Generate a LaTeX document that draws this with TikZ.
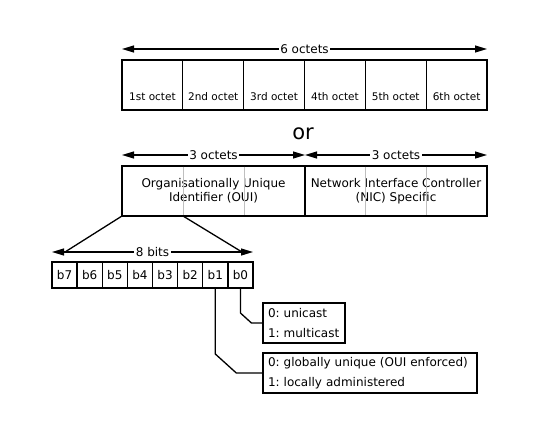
\documentclass[tikz,border=0pt]{standalone}
\usepackage{fontspec}
\setmainfont{DejaVu Sans}
\usetikzlibrary{arrows.meta, calc, positioning}

\tikzset{
    cell/.style = {draw, line width = 1.3pt, minimum height = 50pt, inner sep = 0pt, outer sep = 0pt, anchor = north west},
    octetlabel/.style = {anchor = south, inner sep = 0pt, yshift = 9pt, font = \fontsize{10.5}{12}\selectfont},
    bitcell/.style = {draw, line width = 1.3pt, minimum width = 25.125pt, minimum height = 26pt, inner sep = 0pt, outer sep = 0pt, font = \fontsize{12}{14}\selectfont},
    span/.style = {line width = 1.2pt, {Triangle[length = 12pt, width = 7pt]}-{Triangle[length = 12pt, width = 7pt]}},
    spanlabel/.style = {fill = white, inner sep = 1.5pt, font = \fontsize{12}{14}\selectfont},
    divider/.style = {line width = 0.8pt, black!25, shorten < = 0.7pt, shorten > = 0.7pt},
    wire/.style = {line width = 1.3pt},
    legendbox/.style = {draw, line width = 1.3pt, align = left, anchor = west, inner xsep = 5pt, inner ysep = 0pt, outer sep = 0pt, minimum height = 40pt, font = \fontsize{12}{19.5}\selectfont},
}

\begin{document}
\frenchspacing
\begin{tikzpicture}[x = 1pt, y = -1pt]
    \useasboundingbox (0,0) rectangle (540,428);
    % Parametri
    \pgfmathsetmacro{\ow}{365/6}
    \pgfmathsetmacro{\bw}{25.125}
    % 6 octets
    \foreach \i/\t in {1/1st,2/2nd,3/3rd,4/4th,5/5th,6/6th}
        \node[cell, minimum width = \ow pt, label = {[octetlabel]south:\t\ octet}] (octet\i) at ({122+(\i-1)*\ow},60) {};
    \coordinate (sixl) at ($(octet1.north west)+(0,-11)$);
    \coordinate (sixr) at ($(octet6.north east)+(0,-11)$);
    \draw[span] (sixl) -- node[spanlabel]{6 octets} (sixr);
    % or
    \node[anchor = base, inner sep = 0pt, font = \fontsize{21}{24}\selectfont] (or) at (303,139) {or};
    % OUI + NIC
    \node[cell, minimum width = 183pt, align = center, font = \fontsize{12}{14}\selectfont] (oui) at (122,166) {Organisationally Unique\\Identifier (OUI)};
    \node[cell, minimum width = 182pt, align = center, font = \fontsize{12}{14}\selectfont] (nic) at (oui.north east) {Network Interface Controller\\(NIC) Specific};
    \foreach \b in {oui,nic}
        \foreach \f in {1/3,2/3}
            \draw[divider] ($(\b.north west)!\f!(\b.north east)$) -- ($(\b.south west)!\f!(\b.south east)$);
    \coordinate (ouil) at ($(oui.north west)+(0,-11)$);
    \coordinate (ouir) at ($(oui.north east)+(0,-11)$);
    \coordinate (nicl) at ($(nic.north west)+(0,-11)$);
    \coordinate (nicr) at ($(nic.north east)+(0,-11)$);
    \draw[span] (ouil) -- node[spanlabel]{3 octets} (ouir);
    \draw[span] (nicl) -- node[spanlabel]{3 octets} (nicr);
    % 8 bits
    \foreach \i in {0,...,7}
        \node[bitcell] (b\i) at ({52+(7-\i+0.5)*\bw},275) {b\i};
    \coordinate (bitl) at ($(b7.north west)+(0,-10)$);
    \coordinate (bitr) at ($(b0.north east)+(0,-10)$);
    \draw[span] (bitl) -- node[spanlabel]{8 bits} (bitr);
    \coordinate (bitlb) at ($(bitl)+(13,0)$);
    \coordinate (bitrb) at ($(bitr)+(-11,0)$);
    \coordinate (ouidiv) at ($(oui.south west)!1/3!(oui.south east)$);
    \draw[wire] (oui.south west) -- (bitlb);
    \draw[wire] (ouidiv) -- (bitrb);
    % Legenda
    \node[legendbox, text width = 72pt] (cast) at (263,323) {0: unicast\\1: multicast};
    \node[legendbox, text width = 204pt] (admin) at (263,373) {0: globally unique (OUI enforced)\\1: locally administered};
    \draw[wire] (b0.south) -- ($(b0.south |- cast.west)+(0,-10)$) -- ++(11,10) -- (cast.west);
    \draw[wire] (b1.south) -- ($(b1.south |- admin.west)+(0,-19)$) -- ++(21,19) -- (admin.west);
\end{tikzpicture}
\end{document}
